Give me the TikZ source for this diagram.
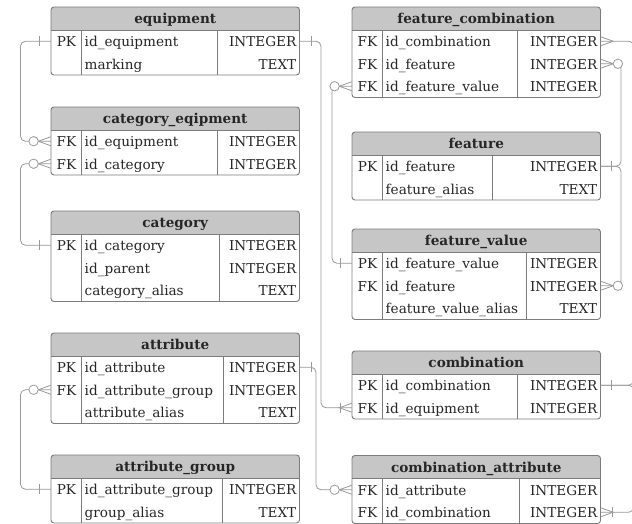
\documentclass[tikz,border=0pt]{standalone}
\usepackage{fontspec}
\setmainfont{DejaVu Serif}
\usetikzlibrary{calc}

\definecolor{txtdark}{HTML}{262626}
\definecolor{headfill}{HTML}{C6C6C6}
\definecolor{bordergray}{HTML}{7C7C7C}
\definecolor{conngray}{HTML}{999999}

\tikzset{
  tblline/.style={draw=bordergray, line width=0.9pt},
  conn/.style={draw=conngray, line width=0.8pt},
  titletxt/.style={font=\bfseries\fontsize{13.6}{16}\selectfont, text=txtdark, inner sep=0pt, anchor=base},
  celltxt/.style={font=\fontsize{13.6}{16}\selectfont, text=txtdark, inner sep=0pt},
  rowanchor/.style={inner sep=0pt, minimum height=22.5pt, minimum width=248.5pt},
}

% table frame: id, left x, top y, type column divider x, number of rows, title
\newcommand\erdtable[6]{%
  \def\tx{#2}\def\ty{#3}%
  \pgfmathsetmacro\tbot{#3+23+22.5*#5}%
  \begin{scope}
    \clip[rounded corners=3pt] (#2,#3) rectangle (#2+248.5,\tbot);
    \fill[headfill] (#2,#3) rectangle (#2+248.5,#3+23);
  \end{scope}
  \draw[tblline] (#2,#3+23) -- (#2+248.5,#3+23);
  \draw[tblline] (#2+30.5,#3+23) -- (#2+30.5,\tbot);
  \draw[tblline] (#4,#3+23) -- (#4,\tbot);
  \draw[tblline, rounded corners=3pt] (#2,#3) rectangle (#2+248.5,\tbot);
  \node[titletxt] (#1) at (#2+124.25,#3+16.5) {#6};
}

% table row: node name, row index, key, field, type
\newcommand\erdrow[5]{%
  \pgfmathsetmacro\ry{\ty+23+22.5*(#2-0.5)}%
  \node[rowanchor] (#1) at (\tx+124.25,\ry) {};
  \node[celltxt, anchor=base] at (\tx+15.5,\ry+5.5) {#3};
  \node[celltxt, anchor=base west] at (\tx+33.5,\ry+5.5) {#4};
  \node[celltxt, anchor=base east] at (\tx+245.5,\ry+5.5) {#5};
}

% relationship end marks: point, direction (+1 right of a table, -1 left of it)
\newcommand\markone[3][11]{\draw[conn] ($(#2)+(#3*#1,-5)$) -- ($(#2)+(#3*#1,5)$);}
\newcommand\markmany[2]{\draw[conn] ($(#1)+(0,-4.5)$) -- ($(#1)+(#2*12.5,0)$) -- ($(#1)+(0,4.5)$);}
\newcommand\markzero[2]{\draw[conn, fill=white] ($(#1)+(#2*17.2,0)$) circle[radius=4.7];}

\begin{document}
\begin{tikzpicture}[x=1pt, y=-1pt]
\useasboundingbox (0,0) rectangle (632,524);
\clip (0,0) rectangle (632,524);
\fill[white] (0,0) rectangle (632,524);

% ---- left column ----
\erdtable{equipment}{51}{7}{217}{2}{equipment}
\erdrow{eq-1}{1}{PK}{id\_equipment}{INTEGER}
\erdrow{eq-2}{2}{}{marking}{TEXT}

\erdtable{category_eqipment}{51}{107}{217}{2}{category\_eqipment}
\erdrow{ce-1}{1}{FK}{id\_equipment}{INTEGER}
\erdrow{ce-2}{2}{FK}{id\_category}{INTEGER}

\erdtable{category}{51}{211}{219}{3}{category}
\erdrow{cat-1}{1}{PK}{id\_category}{INTEGER}
\erdrow{cat-2}{2}{}{id\_parent}{INTEGER}
\erdrow{cat-3}{3}{}{category\_alias}{TEXT}

\erdtable{attribute}{51}{333}{223}{3}{attribute}
\erdrow{at-1}{1}{PK}{id\_attribute}{INTEGER}
\erdrow{at-2}{2}{FK}{id\_attribute\_group}{INTEGER}
\erdrow{at-3}{3}{}{attribute\_alias}{TEXT}

\erdtable{attribute_group}{51}{455}{222}{2}{attribute\_group}
\erdrow{ag-1}{1}{PK}{id\_attribute\_group}{INTEGER}
\erdrow{ag-2}{2}{}{group\_alias}{TEXT}

% ---- right column ----
\erdtable{feature_combination}{352}{7}{517}{3}{feature\_combination}
\erdrow{fc-1}{1}{FK}{id\_combination}{INTEGER}
\erdrow{fc-2}{2}{FK}{id\_feature}{INTEGER}
\erdrow{fc-3}{3}{FK}{id\_feature\_value}{INTEGER}

\erdtable{feature}{352}{132}{492}{2}{feature}
\erdrow{fe-1}{1}{PK}{id\_feature}{INTEGER}
\erdrow{fe-2}{2}{}{feature\_alias}{TEXT}

\erdtable{feature_value}{352}{229}{526}{3}{feature\_value}
\erdrow{fv-1}{1}{PK}{id\_feature\_value}{INTEGER}
\erdrow{fv-2}{2}{FK}{id\_feature}{INTEGER}
\erdrow{fv-3}{3}{}{feature\_value\_alias}{TEXT}

\erdtable{combination}{352}{351}{517}{2}{combination}
\erdrow{cb-1}{1}{PK}{id\_combination}{INTEGER}
\erdrow{cb-2}{2}{FK}{id\_equipment}{INTEGER}

\erdtable{combination_attribute}{352}{455.5}{519}{2}{combination\_attribute}
\erdrow{ca-1}{1}{FK}{id\_attribute}{INTEGER}
\erdrow{ca-2}{2}{FK}{id\_combination}{INTEGER}

% ---- routing lanes ----
\coordinate (laneL) at (20.5,0);
\coordinate (laneM1) at (321,0);
\coordinate (laneM2) at (316,0);
\coordinate (laneM3) at (332,0);
\coordinate (laneR1) at (621,0);
\coordinate (laneR2) at (634,0);

% ---- relationships ----
\begin{scope}[conn, rounded corners=5pt]
  \draw (eq-1.west) -| (laneL |- ce-1.west) -- (ce-1.west);
  \draw (cat-1.west) -| (laneL |- ce-2.west) -- (ce-2.west);
  \draw (ag-1.west) -| (laneL |- at-2.west) -- (at-2.west);
  \draw (eq-1.east) -| (laneM1 |- cb-2.west) -- (cb-2.west);
  \draw (at-1.east) -| (laneM2 |- ca-1.west) -- (ca-1.west);
  \draw (fv-1.west) -| (laneM3 |- fc-3.west) -- (fc-3.west);
  \draw (fe-1.east) -| (laneR1 |- fc-2.east) -- (fc-2.east);
  \draw (fe-1.east) -| (laneR1 |- fv-2.east) -- (fv-2.east);
\end{scope}
\begin{scope}[conn, rounded corners=6pt]
  \draw (cb-1.east) -| (laneR2 |- fc-1.east) -- (fc-1.east);
  \draw (cb-1.east) -| (laneR2 |- ca-2.east) -- (ca-2.east);
\end{scope}

% ---- end marks ----
\markone{eq-1.west}{-1}
\markmany{ce-1.west}{-1}\markzero{ce-1.west}{-1}
\markone{cat-1.west}{-1}
\markmany{ce-2.west}{-1}\markzero{ce-2.west}{-1}
\markone{ag-1.west}{-1}
\markmany{at-2.west}{-1}\markzero{at-2.west}{-1}
\markone[11.5]{eq-1.east}{1}
\markone{cb-2.west}{-1}\markmany{cb-2.west}{-1}
\markone[11.5]{at-1.east}{1}
\markmany{ca-1.west}{-1}\markzero{ca-1.west}{-1}
\markone{fv-1.west}{-1}
\markmany{fc-3.west}{-1}\markzero{fc-3.west}{-1}
\markone[11]{fe-1.east}{1}
\markmany{fc-2.east}{1}\markzero{fc-2.east}{1}
\markmany{fv-2.east}{1}\markzero{fv-2.east}{1}
\markone[11]{cb-1.east}{1}
\markmany{fc-1.east}{1}
\markone[12]{ca-2.east}{1}\markmany{ca-2.east}{1}
\end{tikzpicture}
\end{document}
